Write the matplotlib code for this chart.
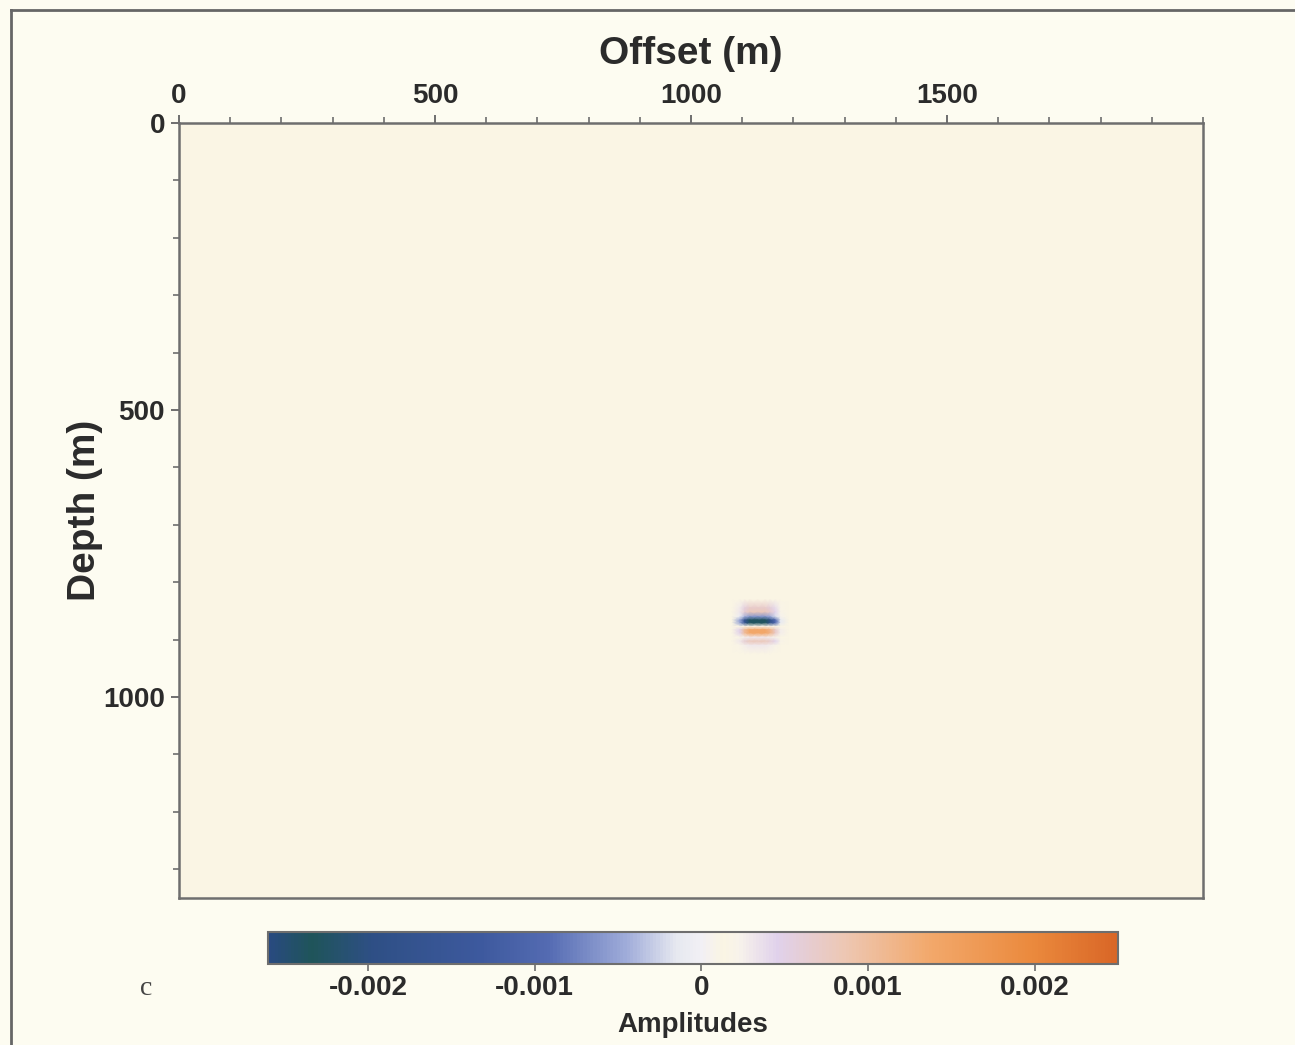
import numpy as np
import matplotlib
matplotlib.use("Agg")
import matplotlib.pyplot as plt
from matplotlib.colors import LinearSegmentedColormap, Normalize
from matplotlib.ticker import MultipleLocator
from matplotlib.lines import Line2D

# ---------------- data ----------------
offset_ticks = [0, 500, 1000, 1500]
depth_ticks = [0, 500, 1000]
cbar_ticks = [-0.002, -0.001, 0, 0.001, 0.002]
cbar_labels = ["-0.002", "-0.001", "0", "0.001", "0.002"]
amp_min, amp_max = -0.0026, 0.0025

# coarse background amplitude field (faint)
bg_offsets = [0, 400, 800, 1200, 1600, 2000]
bg_depths = [0, 60, 400, 900, 1350]
bg_amps = [
    [0.000132, 0.000134, 0.000131, 0.000134, 0.000132, 0.000131],
    [0.000131, 0.000131, 0.000130, 0.000131, 0.000131, 0.000130],
    [0.000130, 0.000130, 0.000130, 0.000130, 0.000130, 0.000130],
    [0.000130, 0.000130, 0.000130, 0.000130, 0.000130, 0.000130],
    [0.000130, 0.000130, 0.000130, 0.000130, 0.000130, 0.000130],
]
bg_level = 0.00013

# localized event near offset ~1130 m, depth ~868 m
event_depths = [830, 845, 852, 860, 866, 871, 877, 883, 889, 896, 903, 910, 925]
event_trace = [0.00013, 0.0007, 0.0008, -0.0006, -0.0023, -0.0023, 0.0002,
               0.0014, 0.0014, 0.0003, 0.0008, 0.0003, 0.00013]
event_offsets = [1080, 1095, 1105, 1115, 1130, 1145, 1155, 1165, 1175, 1190]
event_weights = [0.0, 0.25, 0.75, 1.0, 1.0, 1.0, 0.8, 0.45, 0.1, 0.0]

# ---------------- style ----------------
cmap = LinearSegmentedColormap.from_list("seis", [
    (0.00, (0.16, 0.29, 0.50)),
    (0.05, (0.12, 0.33, 0.35)),
    (0.12, (0.18, 0.31, 0.52)),
    (0.25, (0.24, 0.35, 0.62)),
    (0.33, (0.33, 0.42, 0.70)),
    (0.42, (0.62, 0.67, 0.85)),
    (0.48, (0.90, 0.91, 0.94)),
    (0.51, (0.95, 0.94, 0.96)),
    (0.535, (0.98, 0.96, 0.89)),
    (0.555, (0.97, 0.95, 0.92)),
    (0.60, (0.88, 0.82, 0.92)),
    (0.68, (0.93, 0.78, 0.70)),
    (0.78, (0.95, 0.66, 0.42)),
    (0.90, (0.92, 0.54, 0.24)),
    (1.00, (0.85, 0.40, 0.15)),
])
norm = Normalize(vmin=amp_min, vmax=amp_max)

txt = "#2b2b2b"
spine = "#6e6e6e"
plt.rcParams["font.family"] = ["Liberation Sans", "DejaVu Sans"]
plt.rcParams["font.weight"] = "bold"
plt.rcParams["axes.labelweight"] = "bold"

fig = plt.figure(figsize=(12.95, 10.45), dpi=100, facecolor="#fdfcf1")
ax = fig.add_axes([0.1382, 0.1407, 0.7908, 0.7416])

# background field
ax.pcolormesh(bg_offsets, bg_depths, np.array(bg_amps), cmap=cmap, norm=norm,
              shading="gouraud")
# event
trace = np.array(event_trace)
w = np.array(event_weights)
Z = bg_level + np.outer(trace - bg_level, w)
m = ax.pcolormesh(event_offsets, event_depths, Z, cmap=cmap, norm=norm,
                  shading="gouraud")

ax.set_xlim(0, 2000)
ax.set_ylim(1350, 0)
ax.xaxis.tick_top()
ax.xaxis.set_label_position("top")
ax.set_xticks(offset_ticks)
ax.set_yticks(depth_ticks)
ax.xaxis.set_minor_locator(MultipleLocator(100))
ax.yaxis.set_minor_locator(MultipleLocator(100))
ax.tick_params(axis="both", which="major", labelsize=20, length=6, width=1.4,
               color=spine, labelcolor=txt, direction="out", pad=4)
ax.tick_params(axis="both", which="minor", length=4, width=1.2, color=spine,
               direction="out")
for s in ax.spines.values():
    s.set_color(spine)
    s.set_linewidth(1.8)
ax.set_xlabel("Offset (m)", fontsize=28, fontweight="bold", color=txt, labelpad=14)
ax.set_ylabel("Depth (m)", fontsize=28, fontweight="bold", color=txt, labelpad=0)

# colorbar
cax = fig.add_axes([0.2069, 0.0775, 0.6564, 0.0306])
cb = fig.colorbar(m, cax=cax, orientation="horizontal", ticks=cbar_ticks)
cb.ax.set_xticklabels(cbar_labels)
cb.ax.tick_params(labelsize=20, length=5, width=1.2, color=spine,
                  labelcolor=txt, pad=3)
cb.outline.set_edgecolor(spine)
cb.outline.set_linewidth(1.5)
cb.set_label("Amplitudes", fontsize=20, fontweight="bold", color=txt, labelpad=8)

fig.text(0.108, 0.048, "c", fontsize=20, family="Liberation Serif",
         weight="normal", color="#444444")

# page frame (left and top)
fig.add_artist(Line2D([0.0088, 0.0088], [0.0, 0.9905], transform=fig.transFigure,
                      color="#666666", lw=2))
fig.add_artist(Line2D([0.0088, 1.0], [0.9905, 0.9905], transform=fig.transFigure,
                      color="#666666", lw=2))

fig.savefig("out.png", dpi=100, facecolor=fig.get_facecolor())
